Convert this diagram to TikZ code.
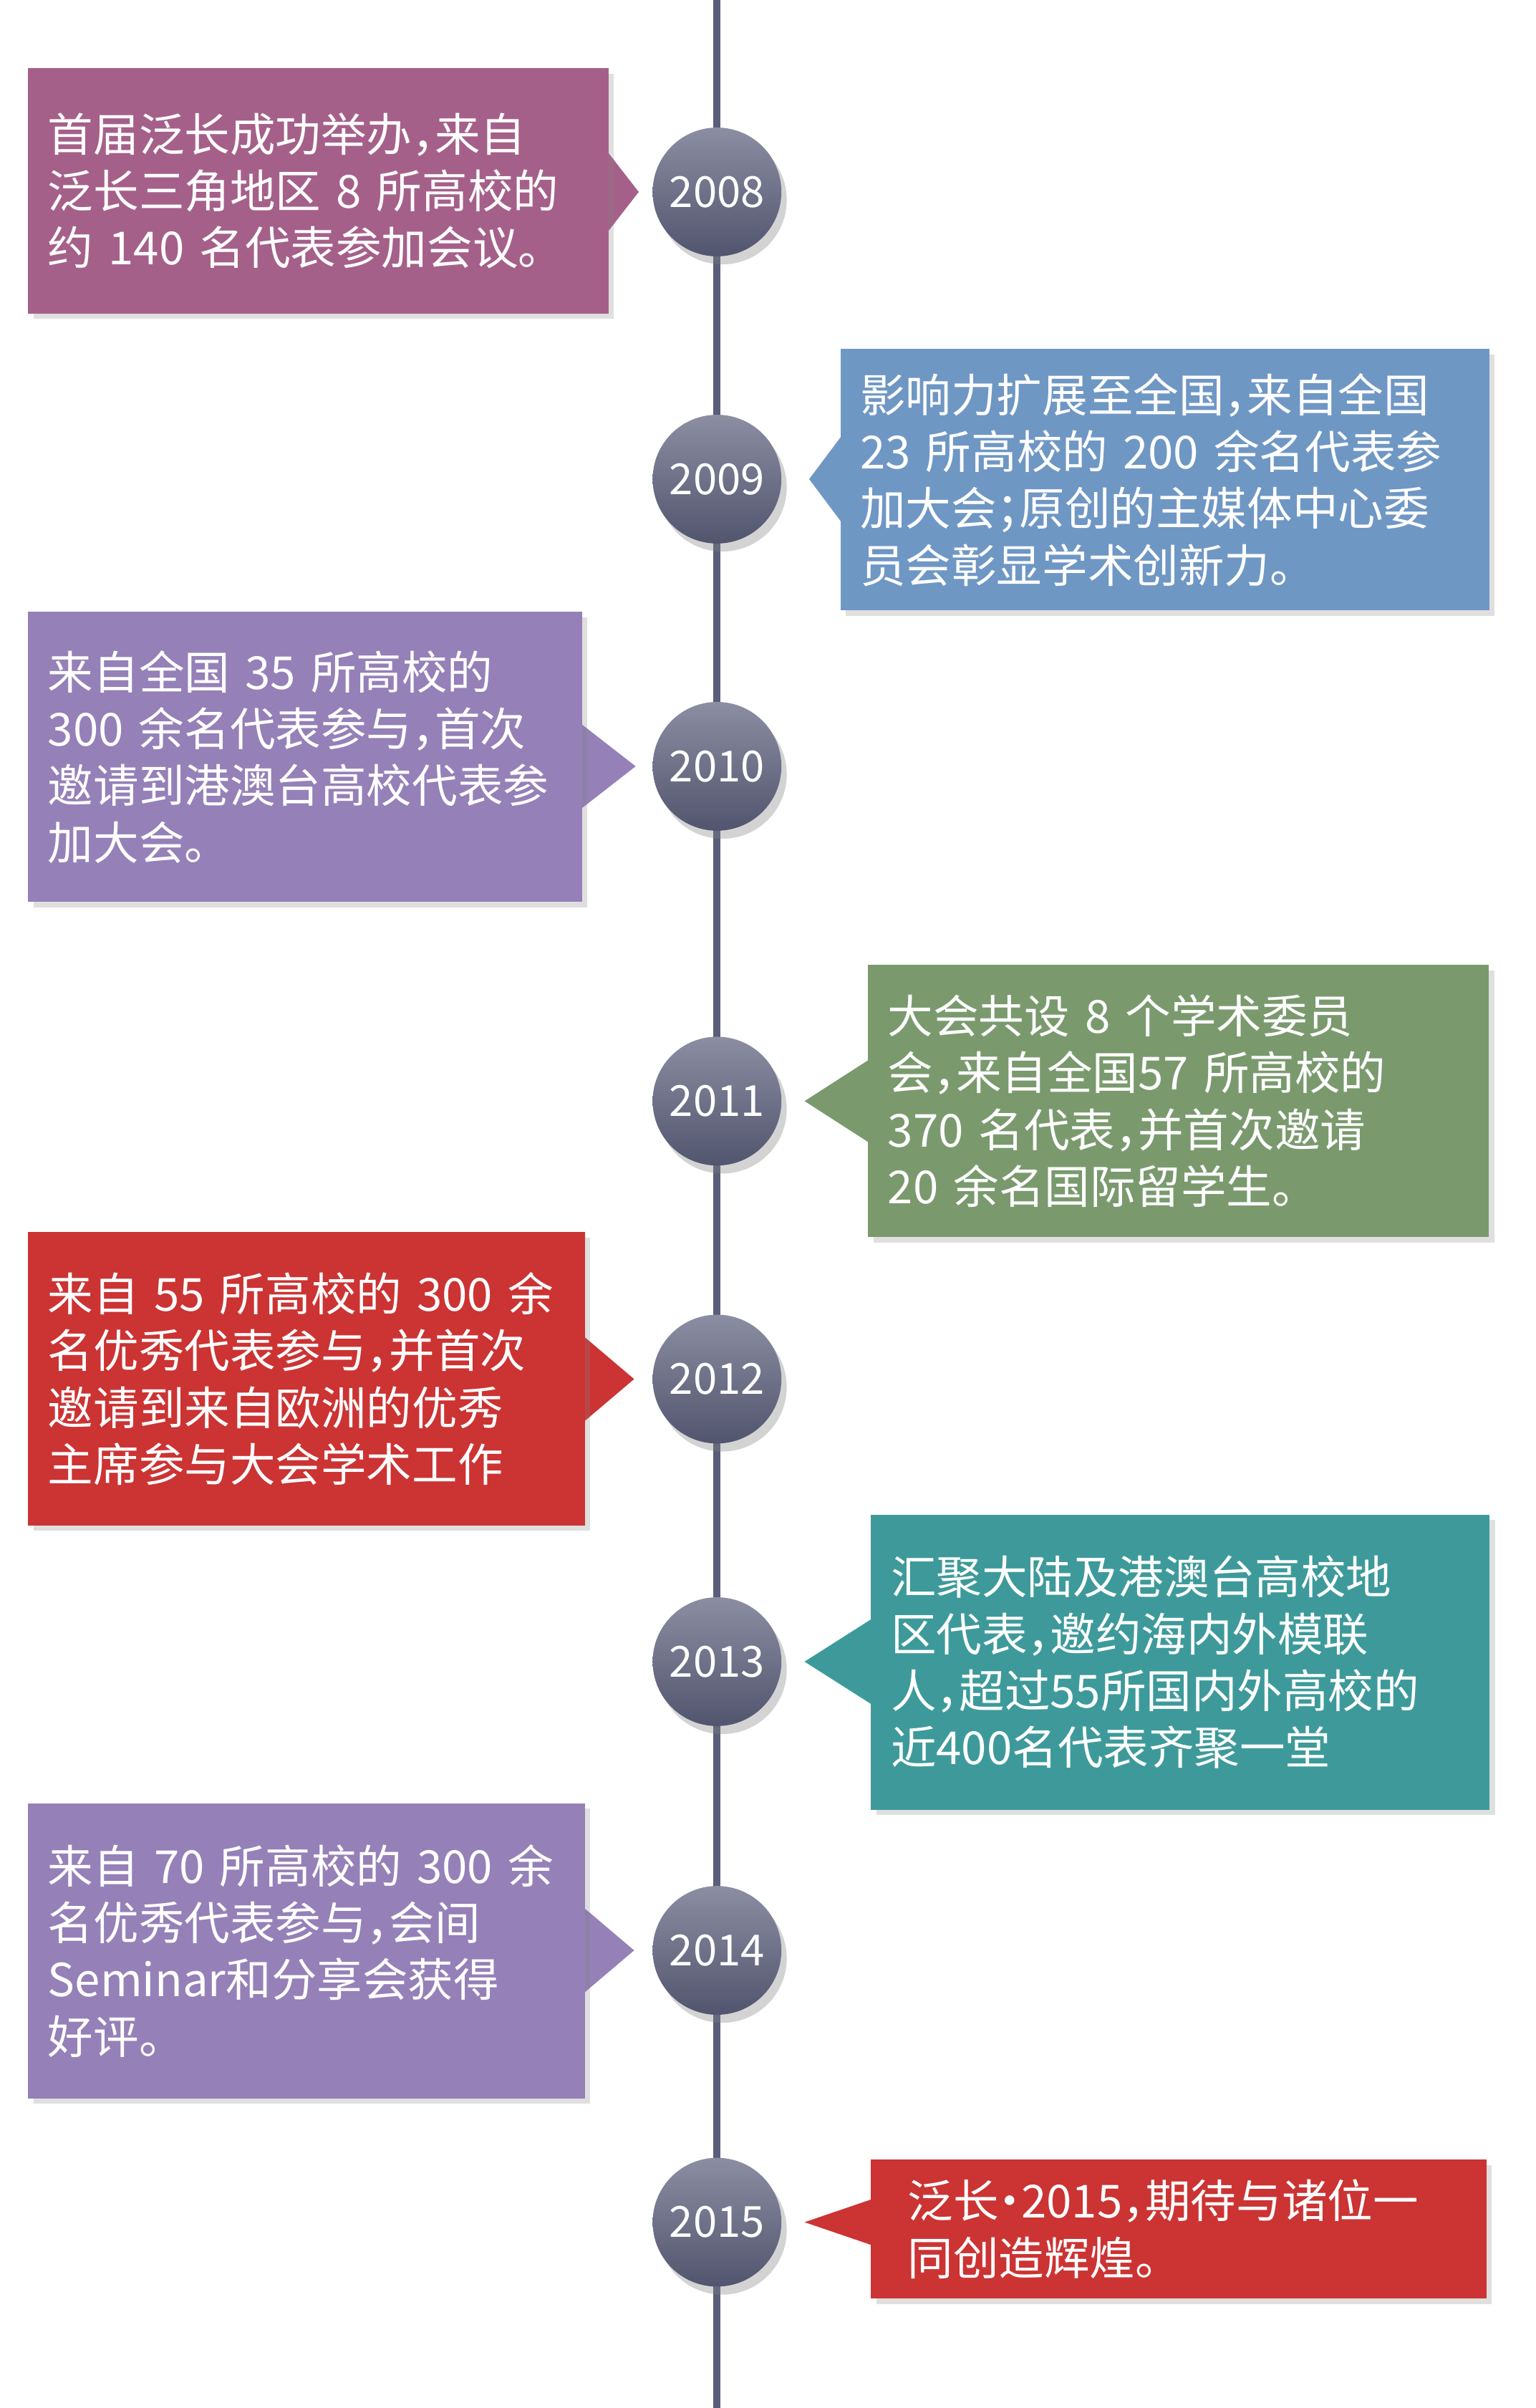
\documentclass[tikz,border=0pt]{standalone}
\usepackage{fontspec}
\setmainfont{Noto Sans CJK SC}[RawFeature=+halt]
\usetikzlibrary{shadows}
\definecolor{cline}{HTML}{5A5E7A}
\definecolor{cmauve}{HTML}{A5608A}
\definecolor{cblue}{HTML}{6F97C4}
\definecolor{cpurple}{HTML}{9580B8}
\definecolor{cgreen}{HTML}{7A9A6E}
\definecolor{cred}{HTML}{CC3333}
\definecolor{cteal}{HTML}{3E9A9A}
\tikzset{
	box/.style = {anchor=north west, inner sep=0.26cm, align=left, text=white,
		font=\fontsize{17}{21.2}\selectfont, drop shadow={opacity=0.25, shadow xshift=2pt, shadow yshift=-2pt}},
	year/.style = {circle, minimum size=1.69cm, inner sep=0pt, text=white,
		top color=cline!70!white, bottom color=cline!90!black,
		font=\fontsize{16}{18}\selectfont, drop shadow={opacity=0.35, shadow xshift=2pt, shadow yshift=-3pt}}
}
\begin{document}
\begin{tikzpicture}[x = 0.02015cm, y = -0.02015cm]
	\useasboundingbox (0,0) rectangle (1000,1568);
	\draw[cline, line width=2.6pt] (467,0) coordinate (top) -- (467,1568) coordinate (bot);

	% pointers
	\fill[cmauve]  (395,98)   -- (416,125)  -- (395,152)  -- cycle;
	\fill[cblue]   (548,284)  -- (527,312)  -- (548,340)  -- cycle;
	\fill[cpurple] (378,471)  -- (414,499)  -- (378,527)  -- cycle;
	\fill[cgreen]  (566,690)  -- (524,717)  -- (566,744)  -- cycle;
	\fill[cred]    (380,870)  -- (413,898)  -- (380,926)  -- cycle;
	\fill[cteal]   (568,1054) -- (524,1082) -- (568,1110) -- cycle;
	\fill[cpurple] (380,1242) -- (413,1270) -- (380,1298) -- cycle;
	\fill[cred]    (568,1432) -- (524,1447) -- (568,1462) -- cycle;

	% boxes
	\node[box, fill=cmauve, text width=7.10cm, minimum height=3.22cm] (b08) at (18,44)
		{首届泛长成功举办，来自\\泛长三角地区 8 所高校的\\约 140 名代表参加会议。};
	\node[box, fill=cblue, text width=8.00cm, minimum height=3.43cm] (b09) at (547,227)
		{影响力扩展至全国，来自全国\\23 所高校的 200 余名代表参\\加大会；原创的主媒体中心委\\员会彰显学术创新力。};
	\node[box, fill=cpurple, text width=6.75cm, minimum height=3.81cm] (b10) at (18,398)
		{来自全国 35 所高校的\\300 余名代表参与，首次\\邀请到港澳台高校代表参\\加大会。};
	\node[box, fill=cgreen, text width=7.63cm, minimum height=3.57cm] (b11) at (565,628)
		{大会共设 8 个学术委员\\会，来自全国57 所高校的\\370 名代表，并首次邀请\\20 余名国际留学生。};
	\node[box, fill=cred, text width=6.79cm, minimum height=3.85cm] (b12) at (18,802)
		{来自 55 所高校的 300 余\\名优秀代表参与，并首次\\邀请到来自欧洲的优秀\\主席参与大会学术工作};
	\node[box, fill=cteal, text width=7.60cm, minimum height=3.87cm] (b13) at (567,986)
		{汇聚大陆及港澳台高校地\\区代表，邀约海内外模联\\人，超过55所国内外高校的\\近400名代表齐聚一堂};
	\node[box, fill=cpurple, text width=6.79cm, minimum height=3.87cm] (b14) at (18,1174)
		{来自 70 所高校的 300 余\\名优秀代表参与，会间\\Seminar和分享会获得\\好评。};
	\node[box, fill=cred, text width=7.12cm, minimum height=1.63cm, inner xsep=0.48cm] (b15) at (567,1406)
		{泛长·2015，期待与诸位一\\同创造辉煌。};

	% years
	\foreach \yr/\yy in {2008/125, 2009/312, 2010/499, 2011/717, 2012/898, 2013/1082, 2014/1270, 2015/1447}
		{\node[year] (y\yr) at (467,\yy) {\yr};}
\end{tikzpicture}
\end{document}
